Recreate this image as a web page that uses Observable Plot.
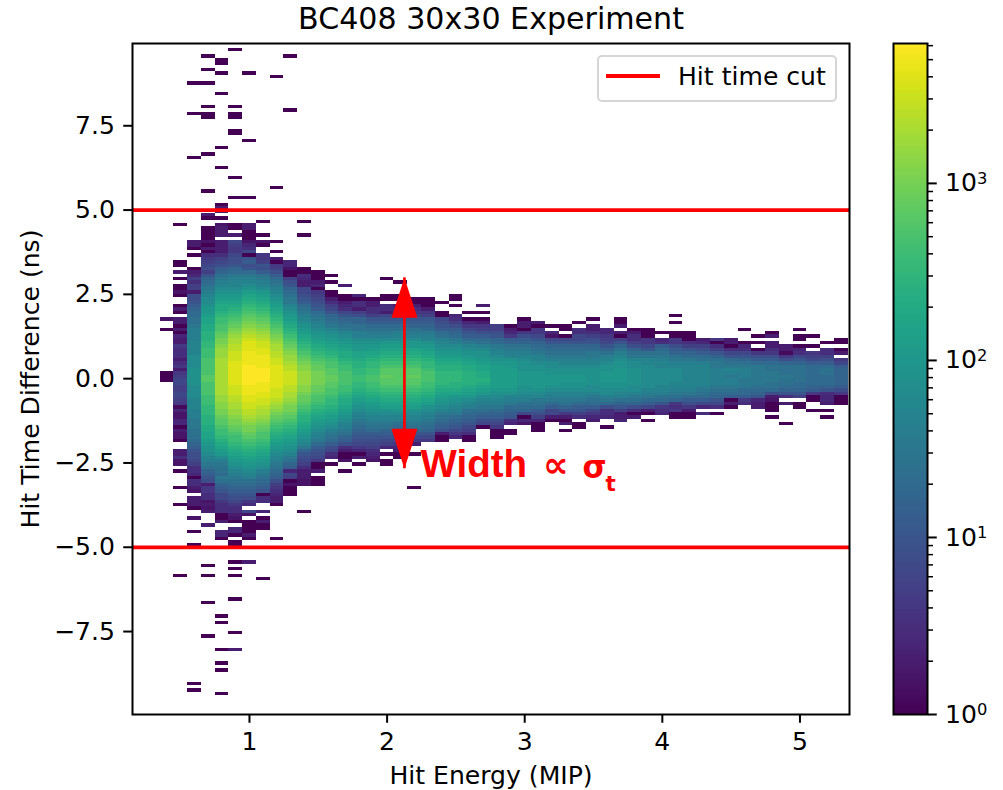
<!DOCTYPE html>
<html>
<head>
<meta charset="utf-8">
<script src="https://cdn.jsdelivr.net/npm/d3@7"></script>
<script src="https://cdn.jsdelivr.net/npm/@observablehq/plot@0.6"></script>
<style>
html,body{margin:0;padding:0;background:#fff}
#chart{position:relative;width:1003px;height:790px;overflow:hidden;font-family:"DejaVu Sans",sans-serif}
#chart svg{position:absolute;top:0;background:transparent}
#legend{position:absolute;left:597px;top:55px;width:236px;height:43px;border:2px solid rgba(204,204,204,.8);border-radius:5px;background:rgba(255,255,255,.8)}
#legend i{position:absolute;left:7px;top:17px;width:54px;height:3.75px;background:#ff0000}
#legend span{position:absolute;left:79px;top:5px;font-size:25.1px;line-height:30px;color:#000;white-space:nowrap}
</style>
</head>
<body>
<div id="chart"></div>
<script>
// Axis labels and texts
const titleText = "BC408 30x30 Experiment";
const xLabel = "Hit Energy (MIP)";
const yLabel = "Hit Time Difference (ns)";
const legendLabel = "Hit time cut";
const xTicks = [1, 2, 3, 4, 5];
const yTicks = [-7.5, -5, -2.5, 0, 2.5, 5, 7.5];
const cutLines = [-5, 5];
const colorMajorTicks = [1, 10, 100, 1000];
const colorMinorTicks = [2,3,4,5,6,7,8,9,20,30,40,50,60,70,80,90,200,300,400,500,600,700,800,900,2000,3000,4000,5000,6000];

// Histogram bins: x centre of each column (MIP)
const columnX = [0.5,0.6,0.7,0.8,0.9,1.0,1.1,1.2,1.3,1.4,1.5,1.6,1.7,1.8,1.9,2.0,2.1,2.2,2.3,2.4,2.5,2.6,2.7,2.8,2.9,3.0,3.1,3.2,3.3,3.4,3.5,3.6,3.7,3.8,3.9,4.0,4.1,4.2,4.3,4.4,4.5,4.6,4.7,4.8,4.9,5.0,5.1,5.2,5.3];
// Index of the uppermost filled row in each column (row k spans k/10 .. (k+1)/10 ns)
const columnTopRow = [34,40,41,44,42,44,42,40,34,32,31,30,27,24,23,24,24,23,23,22,24,19,21,15,15,17,16,15,15,16,17,14,17,14,14,13,13,13,11,11,11,14,12,13,9,14,12,10,11];
// Counts, as tenths of a decade (10 = 10 hits, 20 = 100 hits); holes are empty bins; listed top row downward
const columnLevels = [
[0,0,,3,,0,,0,0,2,0,,,0,3,0,,3,3,0,3,0,4,3,3,6,5,5,5,3,5,6,3,6,7,8,8,7,7,8,8,7,6,1,4,2,2,4,4,0,3,2,2,0,,,3,3,5,2,2,,0,,,,,0,,,,,0],
[3,3,0,,0,,,,0,3,4,7,5,7,7,3,9,9,10,11,12,13,13,14,14,15,16,16,16,16,17,17,17,17,18,18,18,18,19,19,19,19,19,18,18,18,18,17,17,17,16,16,16,15,15,15,14,14,14,13,12,11,10,9,9,8,7,5,5,4,0,5,5,3,2,,3,3,3,0,,,2,,,,0,,,,0],
[0,2,0,3,0,5,6,7,8,9,7,10,12,13,14,15,16,17,18,18,19,20,20,21,22,22,23,23,24,24,24,25,25,26,26,26,27,27,27,27,27,28,28,27,27,27,27,26,26,26,25,25,25,24,24,24,23,23,22,22,21,20,19,19,18,17,16,15,14,12,11,10,9,3,6,6,5,5,2,3,2,3,,,,3],
[3,3,3,,3,3,3,3,5,7,8,9,11,12,14,15,16,17,18,19,20,21,22,23,23,24,25,26,26,27,27,28,29,30,30,31,32,32,32,33,33,33,33,33,33,33,33,33,33,33,32,32,31,31,30,30,29,28,28,27,26,26,25,24,23,22,21,20,18,16,15,14,14,13,15,14,12,11,10,8,8,6,5,5,5,0,0,3,,,4,4,0],
[3,,8,7,6,6,8,9,9,10,12,13,15,16,17,17,18,19,20,21,22,23,24,25,26,27,28,29,30,31,32,33,33,34,34,35,35,35,36,36,36,36,36,36,36,35,35,35,34,34,33,33,32,32,31,30,30,29,28,27,26,26,25,24,23,22,21,20,19,18,17,16,15,14,13,12,11,10,9,8,6,5,5,3,2,0,,4,4,0,,0,0],
[3,0,0,0,2,4,5,8,0,10,11,9,10,13,15,16,17,18,19,21,22,23,24,25,26,27,28,29,30,31,32,33,34,35,36,36,36,37,37,37,37,38,38,38,38,38,38,37,37,37,36,36,35,35,34,34,33,32,31,30,30,29,28,27,26,25,24,23,22,21,20,19,18,17,16,14,13,12,11,10,9,6,5,,8,2,,0,0,0,0,3,0],
[0,,2,0,,,6,6,7,10,9,11,14,15,16,17,18,20,21,22,23,24,25,26,27,28,29,30,31,32,33,34,35,35,36,36,37,37,37,37,38,38,38,38,37,37,37,36,36,35,35,34,33,33,32,31,30,29,28,27,27,26,25,24,23,22,21,20,19,18,16,15,14,13,12,11,10,0,5,5,,,4,,0,3,0,0],
[0,,,0,,3,0,6,7,9,11,13,14,15,16,17,18,19,20,21,22,23,24,25,26,27,28,29,30,31,32,33,33,34,34,35,35,36,36,36,36,36,36,36,35,35,35,34,33,32,31,30,29,28,27,26,25,24,23,22,21,20,19,18,17,16,15,14,13,12,11,9,7,6,5,4,3,3,0,,,,,,,,,,0],
[4,4,2,0,0,7,9,10,12,13,14,15,15,17,18,19,20,21,22,23,24,25,26,27,28,29,30,31,32,32,33,34,34,35,35,35,35,34,34,33,33,32,31,30,30,29,28,27,26,25,24,23,22,21,20,19,18,17,15,14,12,11,4,8,7,0,2,0,0,0],
[0,0,5,4,3,3,8,8,9,10,11,13,14,15,16,17,18,19,20,21,22,23,24,25,26,27,28,29,30,31,31,32,32,32,32,31,31,30,29,29,28,27,26,25,24,24,23,22,21,20,19,18,17,15,12,10,9,8,7,5,3,3,3,2,2,,,,,,,,0],
[0,0,0,3,4,0,6,7,8,9,10,11,13,14,15,16,17,18,19,20,21,22,23,24,25,26,27,28,29,29,30,30,30,30,29,29,28,27,27,26,25,24,23,22,21,20,19,18,17,16,15,13,11,10,9,8,6,0,0,3,,0,0,0],
[0,,0,,,0,0,3,5,7,8,10,12,13,14,15,17,18,19,20,21,22,23,24,25,26,27,27,28,28,29,29,28,28,27,27,26,25,25,24,23,22,21,20,19,18,16,15,14,13,11,9,8,5,4,,0],
[3,,,0,0,3,4,5,8,10,12,13,14,15,17,18,19,20,21,22,23,23,24,25,26,26,27,27,27,27,26,26,25,24,23,23,22,21,20,19,18,17,16,15,14,12,11,9,5,3,0,0,2,,,0],
[4,0,5,5,3,7,9,12,12,14,14,16,16,18,19,20,20,22,22,23,24,24,25,25,26,26,25,25,24,23,22,21,20,19,18,17,16,15,14,13,12,11,10,9,8,6,4,0,3,,0],
[0,3,3,5,5,7,10,11,13,14,15,16,18,19,20,21,22,23,24,25,25,26,26,27,27,26,26,25,24,23,22,21,20,19,18,17,16,15,14,13,11,10,9,8,7,5,4,3,2],
[0,0,,5,5,3,8,10,11,13,14,15,16,18,20,21,22,23,24,25,26,27,28,28,29,28,28,27,26,25,24,23,22,21,19,18,17,16,15,14,12,11,10,8,7,4,,0,,0,0],
[0,0,,3,5,7,9,10,11,13,14,16,17,18,20,21,22,23,24,25,26,27,28,28,28,28,28,27,26,25,24,23,22,21,20,18,17,16,14,13,12,11,9,8,6,4,3,0,0],
[0,0,3,5,6,8,10,11,12,14,15,16,18,20,20,22,23,24,25,26,27,28,28,29,28,28,27,26,25,24,23,22,21,19,18,17,16,15,14,12,10,8,6,3,,,0],
[0,0,0,3,6,7,10,11,12,13,15,16,17,19,20,21,22,23,24,25,25,26,27,27,27,26,26,25,24,23,22,21,19,18,17,16,15,14,13,12,10,8,6],
[0,,,0,0,8,9,10,11,13,14,16,17,18,19,20,21,22,23,24,24,25,25,25,25,24,23,22,21,20,19,18,17,15,14,13,12,11,9,3,0,0],
[0,0,,0,,,4,5,7,9,11,12,13,15,16,18,19,20,21,22,23,24,24,25,25,25,24,24,23,22,20,19,18,17,16,15,13,12,11,10,8,6,4],
[0,,0,4,6,8,10,11,13,15,17,18,19,20,21,22,23,23,24,24,24,24,23,22,21,20,18,17,16,14,13,12,11,10,8,7,5,0,0],
[3,,0,,0,3,6,7,9,11,13,14,16,18,19,19,20,21,22,22,23,23,24,23,22,21,20,18,17,16,15,14,12,11,9,8,0],
[7,7,9,10,12,13,15,16,17,18,19,20,21,21,21,21,21,21,21,20,19,18,17,16,15,13,12,11,9,8,6,0,0,0],
[0,3,4,6,11,12,14,15,16,17,19,20,20,21,21,21,21,21,21,20,19,17,16,15,13,12,11,10,5,4,,0,0],
[0,3,3,0,6,9,11,12,14,15,16,17,18,19,19,19,20,20,20,20,19,19,18,17,16,14,13,12,8,0,4,2],
[3,0,6,6,8,10,12,13,14,15,17,17,18,19,19,20,20,20,20,20,19,18,17,15,14,13,11,9,7,4,0,0,0],
[0,,4,2,8,10,12,13,14,15,16,18,18,19,19,20,20,20,19,18,17,16,15,13,11,8,8,3,0],
[0,0,,0,8,10,12,13,14,15,16,17,18,19,19,20,20,19,19,18,17,16,15,14,12,10,6,3,0,3,,0],
[0,,5,5,8,8,10,12,13,14,15,16,17,18,19,19,20,20,19,19,18,17,16,15,13,11,10,7,5,,0,0],
[0,,3,3,5,7,9,10,12,13,15,15,16,17,18,19,19,19,19,19,18,18,17,15,14,13,11,8,6,4,3],
[4,4,6,7,8,10,12,14,16,17,18,19,19,20,20,20,19,19,18,18,16,15,13,9,5,5,4,,,0],
[0,0,3,,3,0,7,10,12,14,16,17,18,19,19,20,20,20,20,19,19,18,17,16,14,12,10,7,3,3,4],
[0,3,5,5,7,9,12,14,15,17,18,18,19,19,19,19,19,18,18,17,15,14,12,9,5,0,3],
[0,0,0,6,6,8,10,14,15,17,17,18,18,18,18,18,18,18,17,16,15,13,11,8,3,0,,0],
[0,,4,5,11,13,14,15,16,17,17,18,18,18,18,18,17,17,16,14,13,10,6,5,4],
[0,0,6,6,9,11,12,14,15,16,17,18,18,18,18,17,17,16,15,14,12,6,5,6,0,0],
[0,0,0,5,7,10,12,13,15,16,17,17,17,17,17,17,17,16,15,13,11,9,6,3,0,0],
[3,4,7,9,11,13,14,16,17,17,17,17,17,17,16,15,14,13,11,8,4,,5],
[6,0,5,7,10,12,14,15,15,16,16,16,16,16,15,14,13,12,10,8,5,,0],
[3,3,0,5,8,10,13,14,15,17,16,15,16,16,15,14,13,11,0,3,0],
[0,,,,0,4,5,8,10,12,14,15,16,16,16,15,15,15,13,13,11,6,5],
[0,,0,,0,6,9,11,13,15,15,15,15,15,15,14,13,12,10,4,3,3],
[0,3,,3,3,5,6,9,11,13,14,14,15,15,15,14,14,13,9,3,2,0,0,0,,0],
[3,3,1,6,9,12,14,14,14,15,14,14,13,12,10,5,,3,,,,,,0],
[0,,0,0,,0,4,5,8,10,12,14,14,14,14,14,13,13,12,10,7,,0,0],
[0,,,0,,6,7,8,11,13,13,13,13,13,13,12,11,6,0,0,,,0],
[0,,5,5,7,9,11,13,14,14,13,13,13,12,10,5,4,4,3,,0,,0],
[0,0,,0,3,,6,8,11,12,12,12,12,12,11,9,6,0,0,0]
];

// Isolated bins far from the core: column centre, row centre (ns), level
const strayX = [0.9,0.7,1.3,0.8,0.8,0.7,0.8,1.0,1.2,0.6,0.7,0.8,0.7,0.9,1.3,0.6,0.7,0.7,0.9,0.9,0.9,0.9,1.0,0.8,0.7,0.6,0.8,0.9,1.2,0.7,0.9,1.0,0.8,0.8,0.8,0.7,0.7,0.8,1.1,1.4,0.5,0.9,0.9,1.4,2.0,2.1,4.1,4.1,2.2,0.4,0.4,0.4,0.4,0.4,0.9,1.0,0.7,0.9,0.5,0.7,0.9,1.1,0.9,0.7,0.8,0.8,0.9,0.7,0.8,0.9,0.8,0.8,0.6,0.6,0.8,0.7,0.7,0.7,1.0,0.8];
const strayY = [9.75,9.55,9.55,9.45,9.35,9.15,9.05,9.05,8.95,8.75,8.75,8.45,8.05,8.05,7.95,7.85,7.85,7.75,7.85,7.75,7.35,7.25,7.05,6.85,6.65,6.55,6.25,5.95,5.65,5.55,5.35,5.35,5.15,5.05,4.95,4.85,4.75,4.75,4.65,4.65,4.55,4.55,4.45,4.25,2.95,2.85,1.85,1.65,-3.25,1.75,1.45,0.15,0.05,-0.05,-5.45,-5.45,-5.55,-5.65,-5.85,-5.85,-5.85,-5.95,-6.55,-6.65,-7.05,-7.25,-7.55,-7.65,-8.05,-8.05,-8.45,-8.65,-9.05,-9.25,-9.35,4.45,4.35,4.25,4.55,4.55];
const strayLevel = [0,0,0,0,0,0,0,0,0,0,0,0,0,0,0,0,0,0,0,0,0,0,0,0,0,0,0,0,0,0,0,0,0,3,3,3,0,0,0,0,0,0,0,0,0,0,0,0,0,2,0,0,0,0,0,3,0,0,0,0,0,0,0,0,0,0,0,0,0,3,0,0,0,0,0,0,0,0,3,2];

// Annotation
const arrowX = 2.126;
const arrowTop = 2.99;
const arrowBottom = -2.67;
const noteWord = "Width";
const noteWordX = 2.243;
const noteWordY = -2.93;
const noteParts = ["∝", "σ", "t"];
const noteXs = [3.133, 3.42, 3.587];
const noteYs = [-2.93, -2.96, -3.32];
const noteSizes = [36, 31, 21.5];

const countMax = 6170;
const cells = [];
const binW = 0.05, binH = 0.1;
columnLevels.forEach((col, i) => {
  for (let j = 0; j < col.length; j++) {
    if (col[j] === undefined) continue;
    const k = columnTopRow[i] - j;
    cells.push({x1: columnX[i] - binW, x2: columnX[i] + binW, y1: k / 10, y2: (k + 1) / 10, count: 10 ** (col[j] / 10)});
  }
});
strayX.forEach((x, i) => {
  cells.push({x1: x - binW, x2: x + binW, y1: strayY[i] - binH / 2, y2: strayY[i] + binH / 2, count: 10 ** (strayLevel[i] / 10)});
});

const upTip = {draw(c) { c.moveTo(0, 0); c.lineTo(13, 40); c.lineTo(-13, 40); c.closePath(); }};
const downTip = {draw(c) { c.moveTo(0, 0); c.lineTo(13, -40); c.lineTo(-13, -40); c.closePath(); }};
const fmtTick = d => d3.format(".1f")(d).replace("-", "\u2212");

const main = Plot.plot({
  width: 870, height: 790,
  marginLeft: 132, marginRight: 21, marginTop: 43, marginBottom: 76,
  style: {fontFamily: '"DejaVu Sans", sans-serif', background: "transparent", overflow: "visible"},
  x: {domain: [0.15, 5.36]},
  y: {domain: [-9.96, 9.94]},
  color: {type: "log", scheme: "viridis", domain: [1, countMax]},
  marks: [
    Plot.rect(cells, {x1: "x1", x2: "x2", y1: "y1", y2: "y2", fill: "count", shapeRendering: "crispEdges"}),
    Plot.ruleY(cutLines, {stroke: "#ff0000", strokeWidth: 3.75}),
    Plot.ruleX([arrowX], {y1: arrowBottom, y2: arrowTop, stroke: "#ff0000", strokeWidth: 2.7}),
    Plot.dot([arrowTop], {x: () => arrowX, y: d => d, symbol: upTip, r: 1, fill: "#ff0000", stroke: null}),
    Plot.dot([arrowBottom], {x: () => arrowX, y: d => d, symbol: downTip, r: 1, fill: "#ff0000", stroke: null}),
    Plot.text([noteWord], {x: () => noteWordX, y: () => noteWordY, text: d => d, fontSize: 38.5, textAnchor: "start", lineAnchor: "bottom", fill: "#ff0000", fontWeight: "bold", fontFamily: '"Liberation Sans", sans-serif'}),
    Plot.text(noteParts, {x: (d, i) => noteXs[i], y: (d, i) => noteYs[i], text: d => d, fontSize: (d, i) => noteSizes[i], textAnchor: "start", lineAnchor: "bottom", fill: "#ff0000", fontWeight: "bold"}),
    Plot.frame({stroke: "#000", strokeWidth: 2}),
    Plot.axisX(xTicks, {tickSize: 8.75, tickPadding: 8.75, strokeWidth: 2, fontSize: 25.1, label: xLabel, labelAnchor: "center", labelArrow: "none", labelOffset: 69, tickFormat: d => d}),
    Plot.axisY(yTicks, {tickSize: 8.75, tickPadding: 8.75, strokeWidth: 2, fontSize: 25.1, label: yLabel, labelAnchor: "center", labelArrow: "none", labelOffset: 111, tickFormat: fmtTick}),
    Plot.text([titleText], {frameAnchor: "top", text: d => d, fontSize: 30.1, dy: -15, lineAnchor: "bottom", fill: "#000"})
  ]
});
main.style.left = "0px";

// Colour bar
const barSteps = d3.range(0, 300).map(i => i / 300);
const barLog = Math.log10(countMax);
const bar = Plot.plot({
  width: 143, height: 790,
  marginLeft: 33, marginRight: 76, marginTop: 43, marginBottom: 76,
  style: {fontFamily: '"DejaVu Sans", sans-serif', background: "transparent", overflow: "visible"},
  x: {axis: null, domain: [0, 1]},
  y: {type: "log", domain: [1, countMax]},
  color: {type: "log", scheme: "viridis", domain: [1, countMax]},
  marks: [
    Plot.rect(barSteps, {x1: () => 0, x2: () => 1, y1: t => 10 ** (t * barLog), y2: t => 10 ** (Math.min(1, t + 2 / 300) * barLog), fill: t => 10 ** ((t + 1 / 600) * barLog), shapeRendering: "crispEdges"}),
    Plot.frame({stroke: "#000", strokeWidth: 2}),
    Plot.axisY(colorMinorTicks, {anchor: "right", tickSize: 5, strokeWidth: 1.5, tickFormat: () => "", label: null}),
    Plot.axisY(colorMajorTicks, {anchor: "right", tickSize: 8.75, tickPadding: 8.75, strokeWidth: 2, fontSize: 25.1, label: null, tickFormat: d => "10^" + Math.round(Math.log10(d))})
  ]
});
bar.style.left = "860px";
// Typeset the exponents of the colour-bar tick labels
bar.querySelectorAll("text").forEach(t => {
  const m = /^10\^(\d)$/.exec(t.textContent);
  if (!m) return;
  const sel = d3.select(t.querySelector("tspan") || t);
  sel.text("10");
  sel.append("tspan").attr("dy", "-0.45em").attr("font-size", "0.65em").text(m[1]);
});

const chart = document.getElementById("chart");
chart.append(main, bar);
const legend = document.createElement("div");
legend.id = "legend";
legend.innerHTML = "<i></i><span></span>";
legend.querySelector("span").textContent = legendLabel;
chart.append(legend);
</script>
</body>
</html>
